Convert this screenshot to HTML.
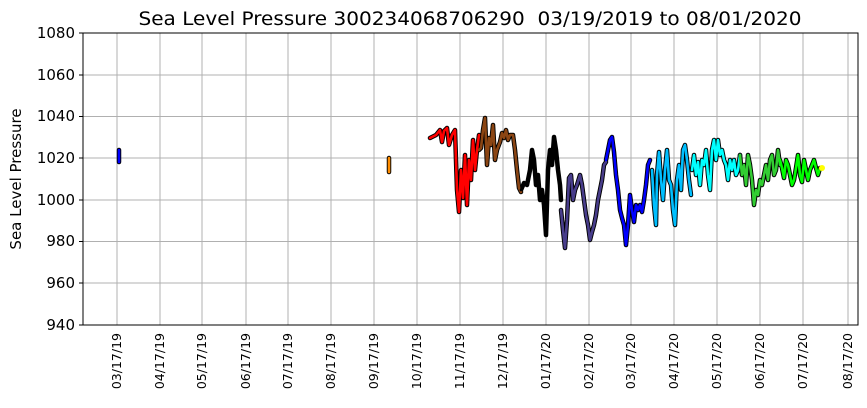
<!DOCTYPE html>
<html><head><style>body{margin:0;background:#fff}svg{display:block}</style></head><body>
<svg width="867" height="408" xmlns="http://www.w3.org/2000/svg" font-family="DejaVu Sans, sans-serif">
<rect width="867" height="408" fill="#fff"/>
<text x="470" y="25" font-size="19" text-anchor="middle" textLength="663" lengthAdjust="spacingAndGlyphs">Sea Level Pressure 300234068706290&#160;&#160;03/19/2019 to 08/01/2020</text>
<g stroke="#b0b0b0" stroke-width="1">
<line x1="83" x2="858" y1="75" y2="75"/><line x1="83" x2="858" y1="116.5" y2="116.5"/><line x1="83" x2="858" y1="158" y2="158"/><line x1="83" x2="858" y1="200" y2="200"/><line x1="83" x2="858" y1="241.5" y2="241.5"/><line x1="83" x2="858" y1="283" y2="283"/>
<line x1="117" x2="117" y1="33" y2="325"/><line x1="160" x2="160" y1="33" y2="325"/><line x1="202" x2="202" y1="33" y2="325"/><line x1="246" x2="246" y1="33" y2="325"/><line x1="288" x2="288" y1="33" y2="325"/><line x1="331" x2="331" y1="33" y2="325"/><line x1="374" x2="374" y1="33" y2="325"/><line x1="417" x2="417" y1="33" y2="325"/><line x1="460" x2="460" y1="33" y2="325"/><line x1="503" x2="503" y1="33" y2="325"/><line x1="546" x2="546" y1="33" y2="325"/><line x1="589" x2="589" y1="33" y2="325"/><line x1="631" x2="631" y1="33" y2="325"/><line x1="674" x2="674" y1="33" y2="325"/><line x1="717" x2="717" y1="33" y2="325"/><line x1="760" x2="760" y1="33" y2="325"/><line x1="803" x2="803" y1="33" y2="325"/><line x1="848" x2="848" y1="33" y2="325"/>
</g>
<g fill="none" stroke-linejoin="round" stroke-linecap="round">
<g stroke="#000" stroke-width="4.5">
<polyline points="119,150 119,162"/><polyline points="389,158 389,172"/>
<polyline points="430,138 436,135 440,130 442,142 444,131 447,128 449,145 452,135 455,130 457,190 459,212 461,170 463,198 465,155 467,205 469,160 471,180 473,140 475,170 477,150 479,135"/>
<polyline points="479,150 481,148 483,130 485,118 487,165 489,138 491,145 493,125 495,160 497,150 500,142 502,133 504,138 506,130 508,140 510,135 513,135 515,150 517,170 519,188 521,192"/>
<polyline points="521,190 524,183 527,185 530,170 532,150 534,160 536,185 538,175 540,200 542,190 544,205 546,235 548,170 550,150 552,165 554,137 556,150 558,170 560,185 561,200"/>
<polyline points="561,210 563,230 565,248 567,220 569,178 571,175 573,200 575,190 577,185 580,175 582,185 584,200 586,215 588,225 590,240 592,232 594,225 596,215 598,200 600,190 602,180 604,165 606,162"/>
<polyline points="606,160 608,150 610,140 612,137 614,152 616,175 618,190 620,210 622,218 624,225 626,245 628,225 630,195 632,210 634,222 636,205 638,210 640,205 642,212 644,200 646,185 648,165 650,160"/>
<polyline points="652,170 654,205 656,225 657,175 659,152 661,180 663,200 665,170 667,150 669,180 671,185 673,210 675,225 677,180 679,165 681,190 683,150 685,145 687,160 689,180 691,195"/>
<polyline points="692,170 694,155 696,175 698,162 700,185 702,160 704,165 706,150 708,175 710,190 712,150 714,140 716,160 718,140 720,155 722,150 724,160 726,165 728,180 730,160 732,170 734,160 736,175 738,170 740,155"/>
<polyline points="740,155 742,175 744,165 746,185 748,155 750,165 752,180 754,205 756,190 758,195 760,180 762,185 764,175 766,165 768,180 770,160 772,155 774,175 776,170 778,150 780,165"/>
<polyline points="780,160 782,168 784,178 786,160 788,165 790,175 792,185 794,180 796,168 798,155 800,175 802,182 804,160 806,170 808,180 810,170 812,165 814,160 816,168 818,175 820,168 822,168"/>
</g>
<g stroke-width="2.6">
<polyline stroke="#0000ff" points="119,150 119,162"/><polyline stroke="#ff8c00" points="389,158 389,172"/>
<polyline stroke="#ff0000" points="430,138 436,135 440,130 442,142 444,131 447,128 449,145 452,135 455,130 457,190 459,212 461,170 463,198 465,155 467,205 469,160 471,180 473,140 475,170 477,150 479,135"/>
<polyline stroke="#8b4513" points="479,150 481,148 483,130 485,118 487,165 489,138 491,145 493,125 495,160 497,150 500,142 502,133 504,138 506,130 508,140 510,135 513,135 515,150 517,170 519,188 521,192"/>
<polyline stroke="#000" points="521,190 524,183 527,185 530,170 532,150 534,160 536,185 538,175 540,200 542,190 544,205 546,235 548,170 550,150 552,165 554,137 556,150 558,170 560,185 561,200"/>
<polyline stroke="#483d8b" points="561,210 563,230 565,248 567,220 569,178 571,175 573,200 575,190 577,185 580,175 582,185 584,200 586,215 588,225 590,240 592,232 594,225 596,215 598,200 600,190 602,180 604,165 606,162"/>
<polyline stroke="#0000ff" points="606,160 608,150 610,140 612,137 614,152 616,175 618,190 620,210 622,218 624,225 626,245 628,225 630,195 632,210 634,222 636,205 638,210 640,205 642,212 644,200 646,185 648,165 650,160"/>
<polyline stroke="#00bfff" points="652,170 654,205 656,225 657,175 659,152 661,180 663,200 665,170 667,150 669,180 671,185 673,210 675,225 677,180 679,165 681,190 683,150 685,145 687,160 689,180 691,195"/>
<polyline stroke="#00ffff" points="692,170 694,155 696,175 698,162 700,185 702,160 704,165 706,150 708,175 710,190 712,150 714,140 716,160 718,140 720,155 722,150 724,160 726,165 728,180 730,160 732,170 734,160 736,175 738,170 740,155"/>
<polyline stroke="#32cd32" points="740,155 742,175 744,165 746,185 748,155 750,165 752,180 754,205 756,190 758,195 760,180 762,185 764,175 766,165 768,180 770,160 772,155 774,175 776,170 778,150 780,165"/>
<polyline stroke="#00ff00" points="780,160 782,168 784,178 786,160 788,165 790,175 792,185 794,180 796,168 798,155 800,175 802,182 804,160 806,170 808,180 810,170 812,165 814,160 816,168 818,175 820,168 822,168"/>
</g>
<circle cx="822" cy="168" r="3" fill="#ffff00" stroke="none"/>
</g>
<rect x="83" y="33" width="775" height="292" fill="none" stroke="#000" stroke-width="1"/>
<g stroke="#000"><line x1="79" x2="83" y1="33" y2="33"/><line x1="79" x2="83" y1="75" y2="75"/><line x1="79" x2="83" y1="116.5" y2="116.5"/><line x1="79" x2="83" y1="158" y2="158"/><line x1="79" x2="83" y1="200" y2="200"/><line x1="79" x2="83" y1="241.5" y2="241.5"/><line x1="79" x2="83" y1="283" y2="283"/><line x1="79" x2="83" y1="325" y2="325"/></g>
<g font-size="15" text-anchor="end">
<text x="75" y="38">1080</text><text x="75" y="80">1060</text><text x="75" y="121">1040</text><text x="75" y="163">1020</text><text x="75" y="205">1000</text><text x="75" y="246">980</text><text x="75" y="288">960</text><text x="75" y="330">940</text>
</g>
<text transform="translate(21,179) rotate(-90)" font-size="15" text-anchor="middle">Sea Level Pressure</text>
<g font-size="12.5" text-anchor="end">
<text transform="translate(121,333) rotate(-90)">03/17/19</text><text transform="translate(164,333) rotate(-90)">04/17/19</text><text transform="translate(206,333) rotate(-90)">05/17/19</text><text transform="translate(250,333) rotate(-90)">06/17/19</text><text transform="translate(292,333) rotate(-90)">07/17/19</text><text transform="translate(335,333) rotate(-90)">08/17/19</text><text transform="translate(378,333) rotate(-90)">09/17/19</text><text transform="translate(421,333) rotate(-90)">10/17/19</text><text transform="translate(464,333) rotate(-90)">11/17/19</text><text transform="translate(507,333) rotate(-90)">12/17/19</text><text transform="translate(550,333) rotate(-90)">01/17/20</text><text transform="translate(593,333) rotate(-90)">02/17/20</text><text transform="translate(635,333) rotate(-90)">03/17/20</text><text transform="translate(678,333) rotate(-90)">04/17/20</text><text transform="translate(721,333) rotate(-90)">05/17/20</text><text transform="translate(764,333) rotate(-90)">06/17/20</text><text transform="translate(807,333) rotate(-90)">07/17/20</text><text transform="translate(852,333) rotate(-90)">08/17/20</text>
</g>
</svg>
</body></html>
